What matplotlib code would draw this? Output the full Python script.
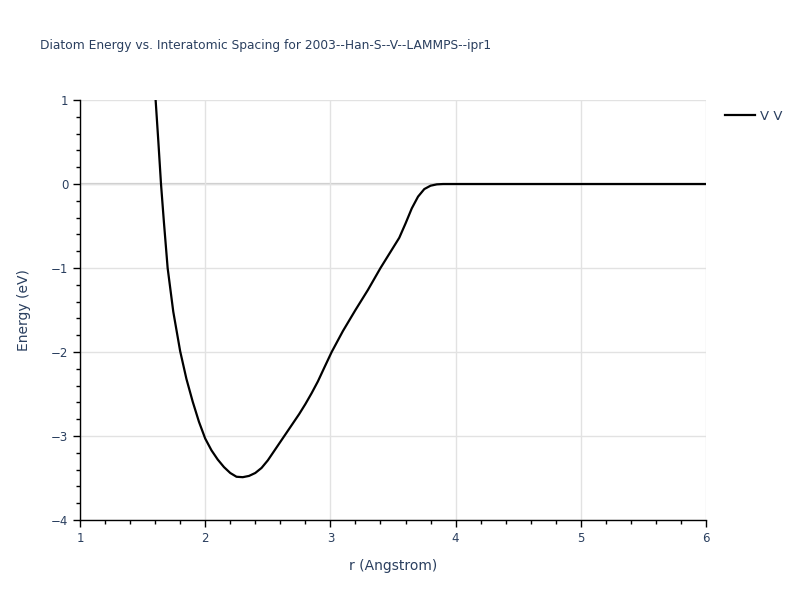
import numpy as np
import matplotlib
matplotlib.use('Agg')
import matplotlib.pyplot as plt
from matplotlib.ticker import MultipleLocator

# Diatom energy curve (r in Angstrom, E in eV)
r_vals = [1.604, 1.626, 1.647, 1.670, 1.700, 1.745, 1.800, 1.850, 1.900, 1.950,
          2.000, 2.050, 2.100, 2.150, 2.200, 2.250, 2.300, 2.350, 2.400, 2.450,
          2.500, 2.550, 2.600, 2.650, 2.700, 2.750, 2.800, 2.850, 2.900, 2.950,
          3.010, 3.100, 3.200, 3.250, 3.300, 3.400, 3.500, 3.550, 3.600, 3.650,
          3.700, 3.750, 3.800, 3.850, 3.900, 4.000, 4.500, 5.000, 5.500, 6.000]
e_vals = [1.00, 0.50, 0.00, -0.45, -1.00, -1.52, -1.99, -2.32, -2.59, -2.83,
          -3.03, -3.17, -3.28, -3.37, -3.44, -3.485, -3.49, -3.475, -3.44, -3.38,
          -3.29, -3.18, -3.07, -2.96, -2.85, -2.74, -2.62, -2.49, -2.35, -2.19,
          -2.00, -1.75, -1.50, -1.38, -1.26, -1.00, -0.76, -0.64, -0.47, -0.29,
          -0.15, -0.06, -0.02, -0.004, 0.0, 0.0, 0.0, 0.0, 0.0, 0.0]
series_name = 'V V'
title = 'Diatom Energy vs. Interatomic Spacing for 2003--Han-S--V--LAMMPS--ipr1'

txt = '#2a3f5f'
plt.rcParams['font.family'] = ['DejaVu Sans']

fig = plt.figure(figsize=(8, 6), dpi=100)
ax = fig.add_axes([0.1, 0.1333, 0.7825, 0.7])

ax.plot(r_vals, e_vals, color='black', lw=1.6, label=series_name, zorder=3)

ax.set_xlim(1, 6)
ax.set_ylim(-4, 1)
ax.xaxis.set_major_locator(MultipleLocator(1))
ax.xaxis.set_minor_locator(MultipleLocator(0.2))
ax.yaxis.set_major_locator(MultipleLocator(1))
ax.yaxis.set_minor_locator(MultipleLocator(0.2))

ax.grid(True, which='major', color='#e2e2e2', lw=1.0, zorder=0)
ax.axhline(0, color='#cccccc', lw=1.6, zorder=1)

for side in ['top', 'right']:
    ax.spines[side].set_visible(False)
for side in ['left', 'bottom']:
    ax.spines[side].set_color('black')
    ax.spines[side].set_linewidth(1.0)

ax.tick_params(which='major', direction='out', length=5, width=1, colors='black',
               labelcolor=txt, labelsize=8.5)
ax.tick_params(which='minor', direction='out', length=3, width=1, colors='black')

ax.set_xlabel('r (Angstrom)', color=txt, fontsize=10, labelpad=10)
ax.set_ylabel('Energy (eV)', color=txt, fontsize=10, labelpad=14)

fig.text(0.05, 0.925, title, color=txt, fontsize=8.8, ha='left', va='center')

fig.legend(loc='upper left', bbox_to_anchor=(0.892, 0.837), frameon=False,
           handlelength=2.2, fontsize=9.5, labelcolor=txt, handletextpad=0.45)

fig.savefig('out.png', dpi=100)
